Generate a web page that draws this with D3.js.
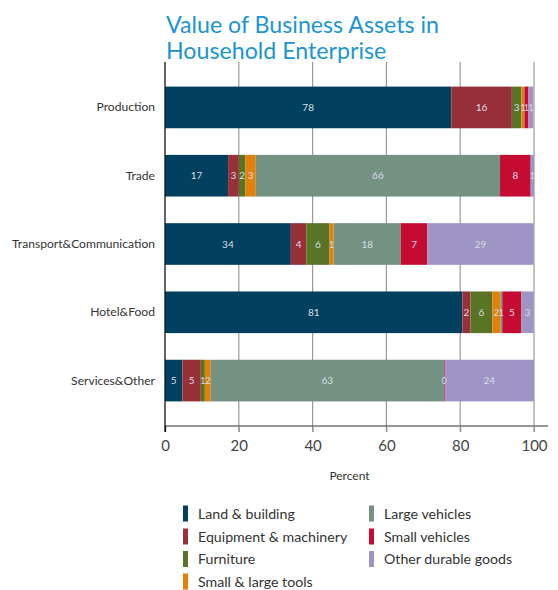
<!DOCTYPE html>
<html>
<head>
<meta charset="utf-8">
<script src="https://cdnjs.cloudflare.com/ajax/libs/d3/7.8.5/d3.min.js"></script>
<style>
  html, body { margin: 0; padding: 0; background: #fff; }
  svg { display: block; font-family: Lato, "Open Sans", sans-serif; }
</style>
</head>
<body>
<svg id="chart" width="558" height="590"></svg>
<script>
// Sectors of household enterprise (bars, top to bottom)
const categories = ["Production", "Trade", "Transport&Communication", "Hotel&Food", "Services&Other"];

// Asset types (stack order, left to right)
const assetTypes = ["Land & building", "Equipment & machinery", "Furniture", "Small & large tools",
                    "Large vehicles", "Small vehicles", "Other durable goods"];
const assetColors = ["#01405f", "#98303a", "#5a7426", "#e3800a", "#739281", "#c50b31", "#9e95c4"];

// Share of business asset value (percent), one array per asset type, in category order
const landBuilding   = [77.6, 17.1, 34.1, 80.6,  4.7];
const equipment      = [16.4,  2.9,  4.2,  2.2,  5.0];
const furniture      = [ 2.6,  1.8,  6.3,  5.9,  1.1];
const tools          = [ 0.8,  2.8,  1.1,  2.2,  1.6];
const largeVehicles  = [ 0.0, 66.2, 18.2,  0.5, 63.2];
const smallVehicles  = [ 1.1,  8.3,  7.2,  5.2,  0.2];
const otherDurables  = [ 1.3,  0.9, 28.8,  3.3, 24.2];

const xTicks = [0, 20, 40, 60, 80, 100];

const seriesValues = [landBuilding, equipment, furniture, tools, largeVehicles, smallVehicles, otherDurables];

const rows = categories.map((c, i) => {
  const r = { category: c };
  assetTypes.forEach((a, k) => { r[a] = seriesValues[k][i]; });
  return r;
});

const svg = d3.select("#chart");

const x = d3.scaleLinear().domain([0, 100]).range([165, 534]);
const y = d3.scaleBand().domain(categories).range([62, 426])
  .paddingInner(0.39).paddingOuter(0.36);
const color = d3.scaleOrdinal().domain(assetTypes).range(assetColors);

// Title
const title = svg.append("g").attr("fill", "#1b95d2")
  .attr("font-size", 23.2);
title.append("text").attr("x", 166).attr("y", 33).text("Value of Business Assets in");
title.append("text").attr("x", 166).attr("y", 59).text("Household Enterprise");

// Vertical grid lines (extend slightly below the baseline as ticks)
svg.append("g").selectAll("line")
  .data(xTicks.slice(1))
  .join("line")
  .attr("x1", d => x(d)).attr("x2", d => x(d))
  .attr("y1", 62).attr("y2", 432)
  .attr("stroke", "#9a9a9a").attr("stroke-width", 1.2);

// Stacked bars
const layers = d3.stack().keys(assetTypes)(rows);

const gBars = svg.append("g");
layers.forEach(layer => {
  gBars.append("g").attr("fill", color(layer.key))
    .selectAll("rect")
    .data(layer.filter(d => d[1] - d[0] > 0))
    .join("rect")
    .attr("x", d => x(d[0]))
    .attr("y", d => y(d.data.category))
    .attr("width", d => Math.max(0.8, x(d[1]) - x(d[0])))
    .attr("height", y.bandwidth());
});

// Value labels (narrow segments get a slightly smaller label)
const gLabels = svg.append("g")
  .attr("fill", "#d9dee4").attr("text-anchor", "middle");
layers.forEach(layer => {
  gLabels.selectAll(null)
    .data(layer.filter(d => d[1] - d[0] > 0))
    .join("text")
    .attr("x", d => x((d[0] + d[1]) / 2))
    .attr("y", d => y(d.data.category) + y.bandwidth() / 2 + 3.5)
    .attr("font-size", d => (x(d[1]) - x(d[0])) < 5 ? 8.5 : 10)
    .text(d => Math.round(d[1] - d[0]));
});

// X axis
const xAxis = svg.append("g").attr("transform", "translate(0,426)")
  .call(d3.axisBottom(x).tickValues(xTicks).tickSize(6).tickPadding(8));
xAxis.select(".domain").attr("stroke", "#333").attr("stroke-width", 1.2)
  .attr("d", `M${x(0)},0H548`);
xAxis.selectAll(".tick line").attr("stroke", (d, i) => i === 0 ? "#111" : "#9a9a9a").attr("stroke-width", 1.2);
xAxis.selectAll(".tick text").attr("font-size", 15).attr("fill", "#444")
  .attr("font-family", "Lato, 'Open Sans', sans-serif");

// Y axis line
svg.append("line")
  .attr("x1", x(0)).attr("x2", x(0)).attr("y1", 62).attr("y2", 432)
  .attr("stroke", "#111").attr("stroke-width", 1.3);

// Category labels
svg.append("g").selectAll("text")
  .data(categories)
  .join("text")
  .attr("x", 155)
  .attr("y", d => y(d) + y.bandwidth() / 2 + 4)
  .attr("text-anchor", "end")
  .attr("font-size", 12.1)
  .attr("fill", "#333")
  .text(d => d);

// Axis title
svg.append("text")
  .attr("x", (x(0) + x(100)) / 2).attr("y", 480)
  .attr("text-anchor", "middle").attr("font-size", 12).attr("fill", "#333")
  .text("Percent");

// Legend: two columns
const legendCols = [183, 369];
const legendRows = [513.5, 536.5, 559, 581.5];
const legendItems = assetTypes.map((a, i) => ({
  name: a,
  col: i < 4 ? 0 : 1,
  row: i < 4 ? i : i - 4
}));
const li = svg.append("g").selectAll("g").data(legendItems).join("g")
  .attr("transform", d => `translate(${legendCols[d.col]},${legendRows[d.row]})`);
li.append("rect").attr("x", 0).attr("y", -8).attr("width", 5).attr("height", 16)
  .attr("fill", d => color(d.name));
li.append("text").attr("x", 15).attr("y", 5).attr("font-size", 14.2).attr("fill", "#333")
  .text(d => d.name);
</script>
</body>
</html>
